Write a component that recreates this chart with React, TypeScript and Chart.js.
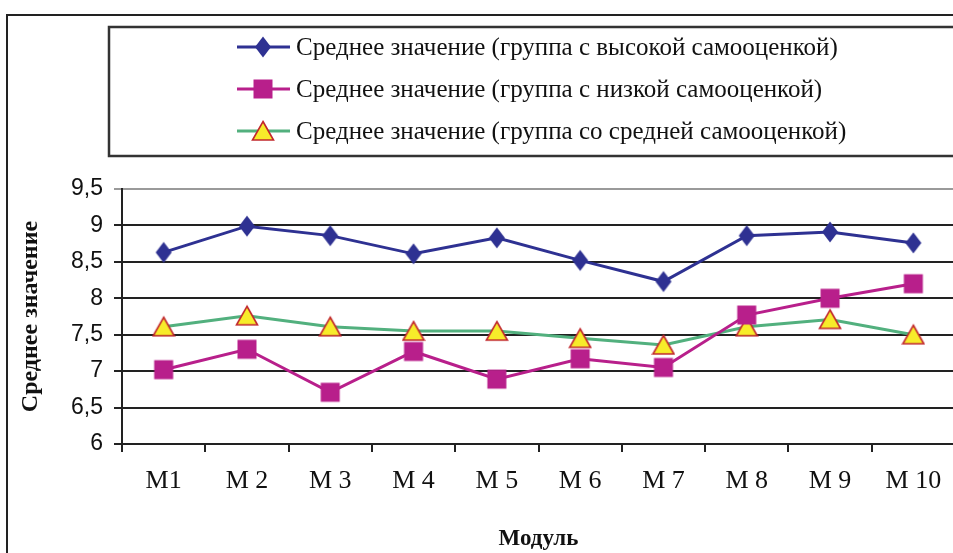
import React, { useEffect, useRef } from "react";
import { Chart, registerables } from "chart.js";

Chart.register(...registerables);

const categories = ["М1", "М 2", "М 3", "М 4", "М 5", "М 6", "М 7", "М 8", "М 9", "М 10"];
const highSelfEsteem = [8.63, 8.99, 8.86, 8.61, 8.83, 8.52, 8.23, 8.86, 8.91, 8.76];
const lowSelfEsteem = [7.02, 7.3, 6.71, 7.27, 6.89, 7.17, 7.05, 7.77, 8.0, 8.2];
const midSelfEsteem = [7.61, 7.76, 7.61, 7.55, 7.55, 7.45, 7.36, 7.61, 7.71, 7.5];
const seriesLabels = [
  "Среднее значение (группа с высокой самооценкой)",
  "Среднее значение (группа с низкой самооценкой)",
  "Среднее значение (группа со средней самооценкой)",
];
const yTickLabels = ["6", "6,5", "7", "7,5", "8", "8,5", "9", "9,5"];
const yTitle = "Среднее значение";
const xTitle = "Модуль";

const BLUE = "#2E3192";
const MAGENTA = "#B81F8B";
const GREEN = "#52B07E";
const YELLOW = "#F7EC2A";
const RED = "#C1272D";

function makeMarker(kind: string): HTMLCanvasElement {
  const c = document.createElement("canvas");
  c.width = 24;
  c.height = 24;
  const g = c.getContext("2d")!;
  const cx = 12, cy = 12;
  g.beginPath();
  if (kind === "diamond") {
    g.moveTo(cx, cy - 10.5);
    g.lineTo(cx + 8, cy);
    g.lineTo(cx, cy + 10.5);
    g.lineTo(cx - 8, cy);
    g.closePath();
    g.fillStyle = BLUE;
    g.fill();
  } else if (kind === "square") {
    g.rect(cx - 9.5, cy - 9.5, 19, 19);
    g.fillStyle = MAGENTA;
    g.fill();
  } else {
    g.moveTo(cx, cy - 9.5);
    g.lineTo(cx + 10.5, cy + 9);
    g.lineTo(cx - 10.5, cy + 9);
    g.closePath();
    g.fillStyle = YELLOW;
    g.fill();
    g.lineWidth = 1.6;
    g.strokeStyle = RED;
    g.stroke();
  }
  return c;
}

const framePlugin = {
  id: "frameLegend",
  afterDraw(chart: any) {
    const ctx = chart.ctx as CanvasRenderingContext2D;
    ctx.save();
    // outer frame
    ctx.strokeStyle = "#222";
    ctx.lineWidth = 2;
    ctx.beginPath();
    ctx.moveTo(7, 560);
    ctx.lineTo(7, 15);
    ctx.lineTo(970, 15);
    ctx.stroke();
    // legend box
    ctx.strokeStyle = "#333";
    ctx.lineWidth = 2.5;
    ctx.strokeRect(109, 27, 900, 129);
    // legend items
    const rows = [47, 89, 131];
    chart.data.datasets.forEach((ds: any, i: number) => {
      const y = rows[i];
      ctx.strokeStyle = ds.borderColor;
      ctx.lineWidth = 3;
      ctx.beginPath();
      ctx.moveTo(237, y);
      ctx.lineTo(290, y);
      ctx.stroke();
      const m = ds.pointStyle as HTMLCanvasElement;
      ctx.drawImage(m, 263 - m.width / 2, y - m.height / 2);
      ctx.fillStyle = "#111";
      ctx.font = "25px 'Liberation Serif'";
      ctx.textBaseline = "middle";
      ctx.textAlign = "left";
      ctx.fillText(ds.label, 296, y + 1);
    });
    ctx.restore();
  },
};

export default function App() {
  const ref = useRef<HTMLCanvasElement>(null);
  useEffect(() => {
    if (!ref.current) return;
    const diamond = makeMarker("diamond");
    const square = makeMarker("square");
    const tri = makeMarker("triangle");
    const chart = new Chart(ref.current, {
      type: "line",
      data: {
        labels: categories,
        datasets: [
          { label: seriesLabels[0], data: highSelfEsteem, borderColor: BLUE, backgroundColor: BLUE, borderWidth: 3, pointStyle: diamond as any, tension: 0 },
          { label: seriesLabels[1], data: lowSelfEsteem, borderColor: MAGENTA, backgroundColor: MAGENTA, borderWidth: 3, pointStyle: square as any, tension: 0 },
          { label: seriesLabels[2], data: midSelfEsteem, borderColor: GREEN, backgroundColor: GREEN, borderWidth: 3, pointStyle: tri as any, tension: 0 },
        ],
      },
      options: {
        animation: false,
        responsive: false,
        devicePixelRatio: 1,
        layout: { padding: { top: 189, left: 0, right: 6, bottom: 0 } },
        plugins: { legend: { display: false }, tooltip: { enabled: false } },
        scales: {
          x: {
            offset: true,
            afterFit: (s: any) => { s.height = 109; },
            grid: { offset: true, drawOnChartArea: false, drawTicks: true, tickLength: 8, color: "#222", lineWidth: 2 },
            border: { display: true, color: "#222", width: 2 },
            ticks: { color: "#111", font: { family: "'Liberation Serif'", size: 26 }, padding: 14, maxRotation: 0, autoSkip: false },
            title: { display: true, text: xTitle, color: "#111", font: { family: "'Liberation Serif'", size: 23, weight: "bold" }, padding: { top: 0, bottom: 0 } },
          },
          y: {
            min: 6,
            max: 9.5,
            afterFit: (s: any) => { s.width = 122; },
            ticks: {
              stepSize: 0.5,
              color: "#111",
              font: { family: "'Liberation Sans'", size: 23 },
              padding: 11,
              callback: (_v: any, i: number) => yTickLabels[i],
            },
            grid: {
              color: (c: any) => (c.tick && c.tick.value === 9.5 ? "#9a9a9a" : "#222"),
              lineWidth: 2,
              tickLength: 8,
            },
            border: { display: true, color: "#222", width: 2 },
            title: { display: true, text: yTitle, color: "#111", font: { family: "'Liberation Serif'", size: 24, weight: "bold" }, padding: { top: 16, bottom: 0 } },
          },
        },
      },
      plugins: [framePlugin],
    } as any);
    return () => chart.destroy();
  }, []);
  return (
    <div style={{ position: "fixed", left: 0, top: 0, width: 953, height: 553, overflow: "hidden", background: "#fff" }}>
      <canvas ref={ref} width={962} height={553} style={{ width: 962, height: 553, display: "block" }} />
    </div>
  );
}
